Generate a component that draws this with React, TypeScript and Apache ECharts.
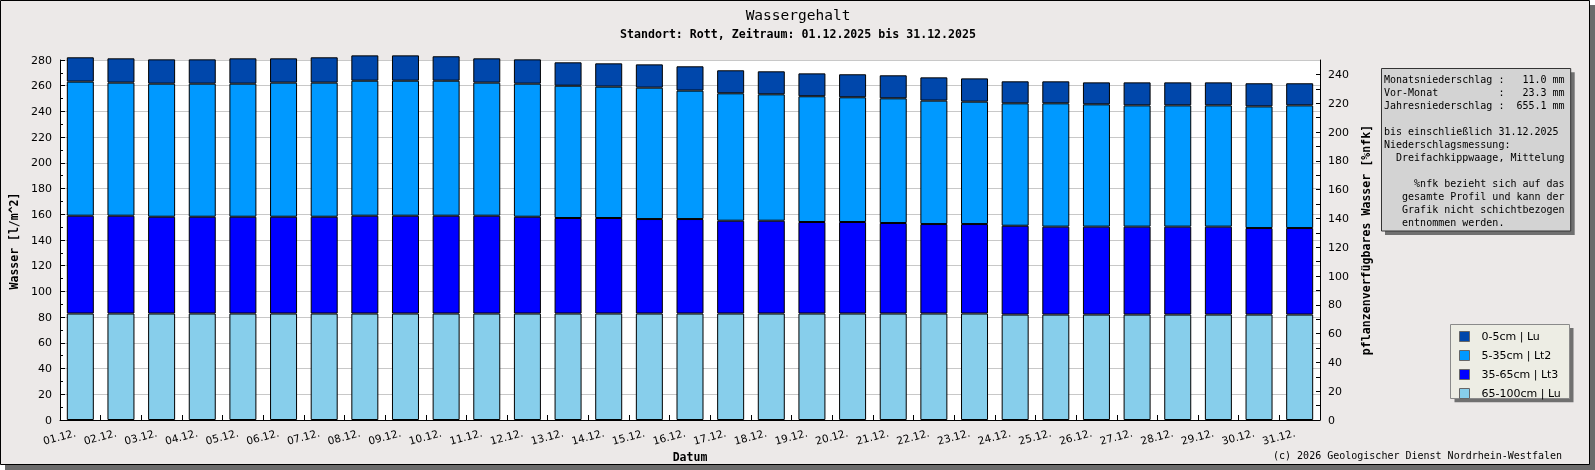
import React, { useEffect, useRef } from "react";
import * as echarts from "echarts";

const days = [
  "01.12.", "02.12.", "03.12.", "04.12.", "05.12.", "06.12.", "07.12.", "08.12.",
  "09.12.", "10.12.", "11.12.", "12.12.", "13.12.", "14.12.", "15.12.", "16.12.",
  "17.12.", "18.12.", "19.12.", "20.12.", "21.12.", "22.12.", "23.12.", "24.12.",
  "25.12.", "26.12.", "27.12.", "28.12.", "29.12.", "30.12.", "31.12.",
];

// water content per layer [l/m^2]
const layer0to5 = [
  18.9, 18.9, 18.9, 18.9, 19.7, 18.9, 19.7, 19.7, 19.7, 19.0, 18.9, 18.9, 18.2, 18.1, 18.1, 18.9,
  17.9, 17.9, 17.8, 17.9, 17.9, 18.1, 18.1, 17.1, 17.1, 17.1, 17.9, 17.9, 17.9, 18.0, 17.2,
];
const layer5to35 = [
  104.3, 103.5, 103.5, 103.5, 103.5, 104.3, 104.3, 105.0, 105.0, 105.0, 103.5, 103.5, 102.9, 102.2, 102.2, 99.9,
  99.1, 98.3, 97.8, 97.0, 97.0, 96.0, 95.2, 95.2, 95.9, 95.1, 94.3, 94.3, 94.3, 94.6, 95.4,
];
const layer35to65 = [
  76.1, 76.1, 75.3, 75.3, 75.3, 75.3, 75.3, 76.1, 76.1, 76.1, 76.1, 75.3, 74.3, 74.3, 73.5, 73.5,
  72.2, 72.2, 71.2, 71.2, 70.4, 69.6, 69.6, 69.1, 68.4, 68.4, 68.4, 68.4, 68.4, 67.3, 67.3,
];
const layer65to100 = [
  82.8, 82.8, 82.8, 82.8, 82.8, 82.8, 82.8, 82.8, 82.8, 82.8, 82.8, 82.8, 82.8, 82.8, 82.8, 82.8,
  82.8, 82.8, 82.8, 82.8, 82.8, 82.8, 82.8, 82.0, 82.0, 82.0, 82.0, 82.0, 82.0, 82.0, 82.0,
];

const seriesNames = ["0-5cm | Lu", "5-35cm | Lt2", "35-65cm | Lt3", "65-100cm | Lu"];
const seriesColors = ["#0047AB", "#0099FF", "#0000FF", "#87CEEB"];

const titleText = "Wassergehalt";
const subtitleText = "Standort: Rott, Zeitraum: 01.12.2025 bis 31.12.2025";
const leftAxisName = "Wasser [l/m^2]";
const rightAxisName = "pflanzenverfügbares Wasser [%nfk]";
const xAxisName = "Datum";
const copyrightText = "(c) 2026 Geologischer Dienst Nordrhein-Westfalen";

// info box lines: [indent in chars, left text, right-aligned text]
const infoLines: [number, string, string][] = [
  [0, "Monatsniederschlag :", "11.0 mm"],
  [0, "Vor-Monat", "23.3 mm"],
  [0, "Jahresniederschlag :", "655.1 mm"],
  [0, "", ""],
  [0, "bis einschließlich 31.12.2025", ""],
  [0, "Niederschlagsmessung:", ""],
  [2, "Dreifachkippwaage, Mittelung", ""],
  [0, "", ""],
  [5, "%nfk bezieht sich auf das", ""],
  [3, "gesamte Profil und kann der", ""],
  [3, "Grafik nicht schichtbezogen", ""],
  [3, "entnommen werden.", ""],
];

const MONO = '"DejaVu Sans Mono", "Liberation Mono", monospace';
const SANS = '"DejaVu Sans", "Liberation Sans", sans-serif';

export default function App() {
  const ref = useRef<HTMLDivElement>(null);

  useEffect(() => {
    if (!ref.current) return;
    const chart = echarts.init(ref.current, undefined, { renderer: "svg" });

    const charW = 6.02;
    const infoX = 1384;
    const infoRight = infoX + 30 * charW;
    const infoElems: any[] = [];
    infoLines.forEach((ln, i) => {
      const y = 79.3 + i * 13;
      const [indent, left, right] = ln;
      if (left) {
        infoElems.push({
          type: "text", x: infoX + indent * charW, y, z: 100,
          style: { text: left, fontFamily: MONO, fontSize: 10, fill: "#000", align: "left", verticalAlign: "middle" },
        });
      }
      if (right) {
        infoElems.push({
          type: "text", x: infoRight, y, z: 100,
          style: { text: right, fontFamily: MONO, fontSize: 10, fill: "#000", align: "right", verticalAlign: "middle" },
        });
      }
      if (i === 1) {
        infoElems.push({
          type: "text", x: infoX + 19 * charW, y, z: 100,
          style: { text: ":", fontFamily: MONO, fontSize: 10, fill: "#000", align: "left", verticalAlign: "middle" },
        });
      }
    });

    const stackOrder = [
      { name: seriesNames[3], data: layer65to100, color: seriesColors[3] },
      { name: seriesNames[2], data: layer35to65, color: seriesColors[2] },
      { name: seriesNames[1], data: layer5to35, color: seriesColors[1] },
      { name: seriesNames[0], data: layer0to5, color: seriesColors[0] },
    ];

    chart.setOption({
      animation: false,
      backgroundColor: "transparent",
      grid: { left: 60, top: 60, width: 1260, height: 360, show: false, containLabel: false },
      legend: {
        orient: "vertical",
        left: 1459,
        top: 331,
        padding: 0,
        itemWidth: 10,
        itemHeight: 10,
        itemGap: 8,
        icon: "rect",
        data: seriesNames,
        selectedMode: false,
        itemStyle: { borderColor: "#666", borderWidth: 1 },
        textStyle: { fontFamily: SANS, fontSize: 11, color: "#000", lineHeight: 10, padding: [0, 0, 0, 7] },
      },
      xAxis: {
        type: "category",
        data: days,
        boundaryGap: true,
        axisLine: { show: true, lineStyle: { color: "#000", width: 1 } },
        axisTick: { show: true, inside: true, length: 5, lineStyle: { color: "#000" } },
        axisLabel: {
          interval: 0,
          rotate: 15,
          margin: 11,
          fontFamily: SANS,
          fontSize: 10.5,
          color: "#000",
          padding: [0, 5, 0, 0],
        },
        splitLine: { show: false },
      },
      yAxis: [
        {
          type: "value",
          min: 0,
          max: 280,
          interval: 20,
          position: "left",
          axisLine: { show: true, lineStyle: { color: "#000", width: 1 } },
          axisTick: { show: true, inside: true, length: 5, lineStyle: { color: "#000" } },
          minorTick: { show: true, splitNumber: 2, length: 3, lineStyle: { color: "#000" } },
          minorSplitLine: { show: false },
          axisLabel: { fontFamily: SANS, fontSize: 11, color: "#000", margin: 8 },
          splitLine: { show: true, lineStyle: { color: "#c8c8c8", width: 1 } },
        },
        {
          type: "value",
          min: 0,
          max: 250,
          interval: 10,
          position: "right",
          axisLine: { show: true, lineStyle: { color: "#000", width: 1 } },
          axisTick: { show: true, inside: true, length: 4, lineStyle: { color: "#000" } },
          axisLabel: {
            fontFamily: SANS, fontSize: 11, color: "#000", margin: 8,
            showMaxLabel: false,
            formatter: (v: number) => (v % 20 === 0 ? String(v) : ""),
          },
          splitLine: { show: false },
          minorSplitLine: { show: false },
        },
      ],
      series: stackOrder.map((s) => ({
        type: "bar",
        name: s.name,
        stack: "water",
        data: s.data,
        barWidth: 27,
        clip: false,
        yAxisIndex: 0,
        itemStyle: { color: s.color, borderColor: "#000", borderWidth: 1 },
        emphasis: { disabled: true },
      })),
      graphic: [
        // frame shadow + frame
        { type: "rect", z: -100, shape: { x: 5, y: 5, width: 1590, height: 465 }, style: { fill: "#6b6b6b" } },
        { type: "rect", z: -99, shape: { x: 0.5, y: 0.5, width: 1589, height: 464 }, style: { fill: "#ECE9E8", stroke: "#000", lineWidth: 1 } },
        // plot background
        { type: "rect", z: -98, shape: { x: 60, y: 60, width: 1260, height: 360 }, style: { fill: "#fff" } },
        // info box
        { type: "rect", z: 90, shape: { x: 1385, y: 72.3, width: 189.7, height: 162.7 }, style: { fill: "#707070" } },
        { type: "rect", z: 91, shape: { x: 1381.5, y: 68.5, width: 189.2, height: 162.5 }, style: { fill: "#D3D3D3", stroke: "#333", lineWidth: 1 } },
        // legend box
        { type: "rect", z: -90, shape: { x: 1454.5, y: 328, width: 119, height: 74.3 }, style: { fill: "#707070" } },
        { type: "rect", z: -89, shape: { x: 1450.5, y: 324.5, width: 119, height: 74 }, style: { fill: "#EDEDE4", stroke: "#8a8a8a", lineWidth: 1 } },
        // titles
        { type: "text", z: 100, x: 798, y: 14.5, style: { text: titleText, fontFamily: MONO, fontSize: 14.5, fill: "#000", align: "center", verticalAlign: "middle" } },
        { type: "text", z: 100, x: 798, y: 33.5, style: { text: subtitleText, fontFamily: MONO, fontSize: 11.6, fontWeight: "bold", fill: "#000", align: "center", verticalAlign: "middle" } },
        // axis names
        { type: "text", z: 100, x: 14.2, y: 241, rotation: Math.PI / 2, style: { text: leftAxisName, fontFamily: MONO, fontSize: 11.5, fontWeight: "bold", fill: "#000", align: "center", verticalAlign: "middle" } },
        { type: "text", z: 100, x: 1366.3, y: 240, rotation: Math.PI / 2, style: { text: rightAxisName, fontFamily: MONO, fontSize: 11.6, fontWeight: "bold", fill: "#000", align: "center", verticalAlign: "middle" } },
        { type: "text", z: 100, x: 690, y: 456.7, style: { text: xAxisName, fontFamily: MONO, fontSize: 11.5, fontWeight: "bold", fill: "#000", align: "center", verticalAlign: "middle" } },
        { type: "text", z: 100, x: 1562, y: 455.5, style: { text: copyrightText, fontFamily: MONO, fontSize: 10, fill: "#000", align: "right", verticalAlign: "middle" } },
        ...infoElems,
      ],
    });

    return () => chart.dispose();
  }, []);

  return <div ref={ref} style={{ position: "fixed", left: 0, top: 0, width: 1595, height: 470 }} />;
}
